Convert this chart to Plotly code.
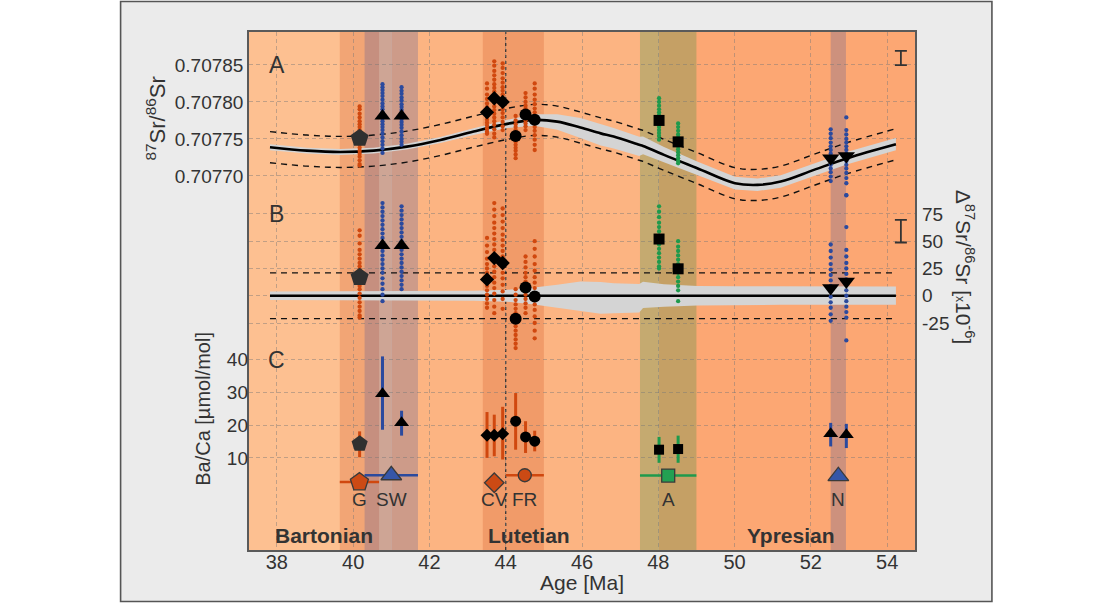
import plotly.graph_objects as go

# ------------------------------------------------------------------ data
x_ticks = [38, 40, 42, 44, 46, 48, 50, 52, 54]
sr_ticks = [0.70770, 0.70775, 0.70780, 0.70785]
sr_ticktext = ["0.70770", "0.70775", "0.70780", "0.70785"]
dsr_ticks = [-25, 0, 25, 50, 75]
dsr_ticktext = ["-25", "0", "25", "50", "75"]
baca_ticks = [10, 20, 30, 40]

stage_names = ["Bartonian", "Lutetian", "Ypresian"]
stage_bounds = [41.0, 48.0]                 # internal stage boundaries [Ma]
stage_label_x = [39.24, 44.6, 51.48]

site_names = ["G", "SW", "CV", "FR", "A", "N"]
site_age_min = [39.65, 40.30, 43.40, 44.00, 47.52, 52.52]
site_age_max = [40.68, 41.70, 44.00, 45.00, 49.00, 52.92]
site_group = ["orange", "blue", "orange", "orange", "green", "blue"]
site_symbol = ["pentagon", "triangle-up", "diamond", "circle", "square", "triangle-up"]
site_marker_y = [2.6, 4.7, 2.4, 4.7, 4.6, 4.4]
site_show_hbar = [True, True, False, True, True, False]

# long-term seawater 87Sr/86Sr curve
curve_age = [37.82, 38.79, 39.66, 40.54, 41.41, 42.29, 43.16, 44.04, 44.74, 45.35,
             45.96, 46.49, 46.83, 47.50, 47.60, 48.15, 49.02, 50.01, 50.60, 51.21,
             52.08, 52.96, 54.23]
curve_sr = [0.7077388, 0.7077342, 0.7077324, 0.7077342, 0.7077396, 0.7077486,
            0.7077599, 0.7077703, 0.7077757, 0.7077734, 0.7077653, 0.7077575,
            0.7077531, 0.7077421, 0.7077405, 0.7077284, 0.7077104, 0.7076901,
            0.7076878, 0.7076923, 0.7077081, 0.7077240, 0.7077428]
# curve uncertainty envelope (x1e-6, relative to curve)
band_upper = [4, 4, 4, 4, 4, 4, 4.5, 5.5, 7.5, 10, 13, 12.5, 11.5, 10.7, 12.8,
              10.5, 9, 8.7, 8.6, 8.6, 8.5, 8.5, 8.5]
band_lower = [-4, -4, -4, -4, -4, -4, -4.5, -5.5, -8, -11, -14, -16.5, -16, -15.3,
              -11.3, -10, -9, -8.5, -8.3, -8.3, -8.2, -8.2, -8.2]
dashed_offset = 21  # x1e-6

# samples
sample_site = ["G", "SW", "SW", "CV", "CV", "CV", "FR", "FR", "FR", "A", "A", "N", "N"]
sample_age = [40.17, 40.77, 41.27, 43.51, 43.70, 43.92, 44.26, 44.52, 44.76,
              48.02, 48.52, 52.52, 52.93]
sample_symbol_sr = ["pentagon", "triangle-up", "triangle-up", "diamond", "diamond",
                    "diamond", "circle", "circle", "circle", "square", "square",
                    "triangle-down", "triangle-down"]
sample_symbol_baca = ["pentagon", "triangle-up", "triangle-up", "diamond", "diamond",
                      "diamond", "circle", "circle", "circle", "square", "square",
                      "triangle-up", "triangle-up"]
sr_mean = [0.707751, 0.707781, 0.707781, 0.707786, 0.707805, 0.707800, 0.707754,
           0.707783, 0.707776, 0.707775, 0.707746, 0.707724, 0.707727]
dsr_mean = [17, 46, 46, 15, 34.5, 30, -21, 7.6, -0.6, 52, 24.7, 7, 13]
baca_mean = [14.3, 29.6, 20.7, 16.9, 16.9, 17.4, 21.2, 16.4, 15.1, 12.5, 12.7, 17.4, 17.1]
baca_lo = [10.2, 18.6, 16.8, 10.0, 10.5, 9.5, 12.5, 11.5, 12.0, 8.5, 8.5, 13.5, 13.0]
baca_hi = [18.1, 41.0, 24.4, 24.0, 23.2, 25.6, 29.8, 21.2, 18.3, 16.4, 16.8, 20.7, 20.4]

sr_dots_G = [0.707794, 0.707790, 0.707784, 0.707779, 0.707774, 0.707770, 0.707766, 0.707762,
             0.707758, 0.707755, 0.707752, 0.707749, 0.707746, 0.707742, 0.707738, 0.707734,
             0.707730, 0.707726, 0.707721, 0.707716, 0.707714]
sr_dots_SW1 = [0.707824, 0.707820, 0.707816, 0.707812, 0.707808, 0.707803, 0.707798, 0.707794,
               0.707790, 0.707786, 0.707782, 0.707778, 0.707774, 0.707770, 0.707766, 0.707762,
               0.707757, 0.707752, 0.707747, 0.707742, 0.707737, 0.707731]
sr_dots_SW2 = [0.707820, 0.707815, 0.707811, 0.707806, 0.707802, 0.707797, 0.707793, 0.707789,
               0.707785, 0.707781, 0.707777, 0.707773, 0.707769, 0.707765, 0.707760, 0.707755,
               0.707750, 0.707746, 0.707742]
sr_dots_CV1 = [0.707825, 0.707818, 0.707810, 0.707804, 0.707798, 0.707793, 0.707788, 0.707784,
               0.707780, 0.707776, 0.707772, 0.707768, 0.707764, 0.707760, 0.707757]
sr_dots_CV2 = [0.707855, 0.707849, 0.707842, 0.707836, 0.707830, 0.707824, 0.707819, 0.707814,
               0.707809, 0.707804, 0.707799, 0.707794, 0.707789, 0.707784, 0.707779, 0.707774,
               0.707769, 0.707763, 0.707757, 0.707752]
sr_dots_CV3 = [0.707852, 0.707846, 0.707839, 0.707832, 0.707826, 0.707820, 0.707815, 0.707810,
               0.707805, 0.707800, 0.707795, 0.707790, 0.707785, 0.707779, 0.707773, 0.707767,
               0.707762]
sr_dots_FR1 = [0.707781, 0.707775, 0.707770, 0.707766, 0.707762, 0.707758, 0.707754, 0.707750,
               0.707746, 0.707742, 0.707738, 0.707734, 0.707729, 0.707724]
sr_dots_FR2 = [0.707812, 0.707806, 0.707800, 0.707795, 0.707791, 0.707787, 0.707783, 0.707779,
               0.707775, 0.707771, 0.707767, 0.707762]
sr_dots_FR3 = [0.707825, 0.707818, 0.707810, 0.707803, 0.707797, 0.707791, 0.707786, 0.707781,
               0.707776, 0.707771, 0.707766, 0.707761, 0.707755, 0.707749, 0.707742, 0.707735]
sr_dots_A1 = [0.707805, 0.707800, 0.707795, 0.707790, 0.707786, 0.707782, 0.707778, 0.707774,
              0.707770, 0.707766, 0.707762, 0.707758, 0.707754, 0.707749]
sr_dots_A2 = [0.707771, 0.707766, 0.707761, 0.707756, 0.707752, 0.707748, 0.707744, 0.707740,
              0.707736, 0.707732, 0.707728, 0.707724, 0.707720, 0.707717]
sr_dots_N1 = [0.707763, 0.707757, 0.707751, 0.707745, 0.707740, 0.707735, 0.707730, 0.707725,
              0.707720, 0.707715, 0.707710, 0.707705, 0.707699, 0.707693]
sr_dots_N2 = [0.707779, 0.707762, 0.707756, 0.707750, 0.707745, 0.707740, 0.707735, 0.707730,
              0.707725, 0.707720, 0.707715, 0.707710, 0.707704, 0.707697, 0.707690, 0.707674]

dsr_dots_G = [60, 55, 48, 42, 38, 34, 30, 27, 24, 21, 18, 15, 12, 9, 6, 2, -2, -6, -10, -14, -18, -20]
dsr_dots_SW1 = [85, 81, 77, 73, 69, 65, 61, 57, 53, 49, 45, 41, 37, 33, 29, 25, 21, 16, 11, 6, 1, -5]
dsr_dots_SW2 = [82, 78, 74, 70, 66, 62, 58, 54, 50, 46, 42, 38, 34, 30, 26, 22, 18, 14, 10, 6]
dsr_dots_CV1 = [53, 46, 40, 34, 29, 25, 21, 17, 13, 9, 5, 1, -3, -7, -11]
dsr_dots_CV2 = [85, 79, 73, 67, 62, 57, 52, 47, 42, 37, 32, 27, 22, 17, 12, 7, 2, -4, -10, -16]
dsr_dots_CV3 = [80, 74, 68, 62, 56, 51, 46, 41, 36, 31, 26, 21, 16, 10, 4, -3, -12]
dsr_dots_FR1 = [6, 1, -4, -8, -12, -16, -20, -24, -28, -32, -36, -40, -44, -48]
dsr_dots_FR2 = [36, 31, 26, 21, 17, 13, 9, 5, 1, -3, -7, -11, -16]
dsr_dots_FR3 = [50, 43, 36, 29, 23, 17, 12, 7, 2, -3, -8, -13, -19, -25, -32, -39]
dsr_dots_A1 = [82, 77, 72, 67, 63, 59, 55, 51, 47, 43, 39, 35, 31, 27, 25]
dsr_dots_A2 = [50, 45, 41, 37, 33, 29, 25, 21, 17, 13, 9, 5, -5]
dsr_dots_N1 = [47, 41, 35, 29, 24, 19, 14, 9, 4, -1, -6, -11, -17, -23]
dsr_dots_N2 = [92, 63, 42, 36, 30, 25, 20, 15, 10, 5, 0, -5, -10, -15, -20, -41]

sr_dots = [sr_dots_G, sr_dots_SW1, sr_dots_SW2, sr_dots_CV1, sr_dots_CV2, sr_dots_CV3,
           sr_dots_FR1, sr_dots_FR2, sr_dots_FR3, sr_dots_A1, sr_dots_A2, sr_dots_N1, sr_dots_N2]
dsr_dots = [dsr_dots_G, dsr_dots_SW1, dsr_dots_SW2, dsr_dots_CV1, dsr_dots_CV2, dsr_dots_CV3,
            dsr_dots_FR1, dsr_dots_FR2, dsr_dots_FR3, dsr_dots_A1, dsr_dots_A2, dsr_dots_N1,
            dsr_dots_N2]

# external reproducibility bars (2SD)
repro_age = 54.36
repro_sr = 0.7078595
repro_sr_err = 0.0000097
repro_dsr = 59.2
repro_dsr_err = 10.4

# ------------------------------------------------------------------ style
FONT = "Liberation Sans"
TXT = "#333333"
stage_colors = ["#FDC091", "#FCB482", "#FCA773"]
group_solid = {"orange": "#D0480F", "blue": "#2B4A9E", "green": "#1E9A4C"}
group_band = {"orange": "rgba(204,68,17,0.22)", "blue": "rgba(40,70,165,0.22)",
              "green": "rgba(30,140,60,0.25)"}
group_fill = {"orange": "#CC4A14", "blue": "#3556A8", "green": "#23A052"}
site_group_of = dict(zip(site_names, site_group))

X_MIN, X_MAX = 37.27, 54.73

fig = go.Figure()

# ---- panel A: curve envelope, dashed +-, curve
sr_up = [c + u * 1e-6 for c, u in zip(curve_sr, band_upper)]
sr_lo = [c + l * 1e-6 for c, l in zip(curve_sr, band_lower)]
fig.add_trace(go.Scatter(x=curve_age, y=sr_up, mode="lines", line=dict(width=0),
                         yaxis="y", hoverinfo="skip"))
fig.add_trace(go.Scatter(x=curve_age, y=sr_lo, mode="lines", line=dict(width=0),
                         fill="tonexty", fillcolor="#D4D4D4", yaxis="y", hoverinfo="skip"))
for sgn in (1, -1):
    fig.add_trace(go.Scatter(x=curve_age, y=[c + sgn * dashed_offset * 1e-6 for c in curve_sr],
                             mode="lines", line=dict(color="#111", width=1.4, dash="6px,5px",
                                                     shape="spline"),
                             yaxis="y", hoverinfo="skip"))
fig.add_trace(go.Scatter(x=curve_age, y=curve_sr, mode="lines",
                         line=dict(color="#000", width=2.6, shape="spline"), yaxis="y"))

# ---- panel B: envelope, dashed, zero line
fig.add_trace(go.Scatter(x=curve_age, y=band_upper, mode="lines", line=dict(width=0),
                         yaxis="y2", hoverinfo="skip"))
fig.add_trace(go.Scatter(x=curve_age, y=band_lower, mode="lines", line=dict(width=0),
                         fill="tonexty", fillcolor="#D4D4D4", yaxis="y2", hoverinfo="skip"))
for sgn in (1, -1):
    fig.add_trace(go.Scatter(x=[curve_age[0], curve_age[-1]], y=[sgn * dashed_offset] * 2,
                             mode="lines", line=dict(color="#111", width=1.4, dash="6px,5px"),
                             yaxis="y2", hoverinfo="skip"))
fig.add_trace(go.Scatter(x=[curve_age[0], curve_age[-1]], y=[0, 0], mode="lines",
                         line=dict(color="#000", width=2.6), yaxis="y2"))

# ---- individual measurements (dots)
for i, age in enumerate(sample_age):
    col = group_solid[site_group_of[sample_site[i]]]
    fig.add_trace(go.Scatter(x=[age] * len(sr_dots[i]), y=sr_dots[i], mode="markers",
                             marker=dict(size=4.3, color=col), yaxis="y"))
    fig.add_trace(go.Scatter(x=[age] * len(dsr_dots[i]), y=dsr_dots[i], mode="markers",
                             marker=dict(size=4.3, color=col), yaxis="y2"))

# ---- sample means A / B
size_sr = {"pentagon": 19, "triangle-up": 14, "diamond": 11, "circle": 12,
           "square": 11, "triangle-down": 15}
for i, age in enumerate(sample_age):
    sym = sample_symbol_sr[i]
    mcol = "#303030" if sym == "pentagon" else "#000000"
    for yv, ax in ((sr_mean[i], "y"), (dsr_mean[i], "y2")):
        fig.add_trace(go.Scatter(x=[age], y=[yv], mode="markers", yaxis=ax,
                                 marker=dict(symbol=sym, size=size_sr[sym], color=mcol)))

# ---- panel C: Ba/Ca with error bars
size_c = {"pentagon": 17, "triangle-up": 13, "diamond": 10, "circle": 11, "square": 10}
for i, age in enumerate(sample_age):
    sym = sample_symbol_baca[i]
    col = group_solid[site_group_of[sample_site[i]]]
    mcol = "#303030" if sym == "pentagon" else "#000000"
    fig.add_trace(go.Scatter(
        x=[age], y=[baca_mean[i]], mode="markers", yaxis="y3",
        marker=dict(symbol=sym, size=size_c[sym], color=mcol),
        error_y=dict(type="data", symmetric=False, array=[baca_hi[i] - baca_mean[i]],
                     arrayminus=[baca_mean[i] - baca_lo[i]], color=col, thickness=3, width=0)))

# ---- site markers with age ranges
size_site = {"pentagon": 19, "triangle-up": 18, "diamond": 15, "circle": 13, "square": 13}
for j, name in enumerate(site_names):
    mid = (site_age_min[j] + site_age_max[j]) / 2
    half = (site_age_max[j] - site_age_min[j]) / 2
    g = site_group[j]
    err = dict(type="data", array=[half], color=group_solid[g], thickness=2.5, width=0,
               visible=site_show_hbar[j])
    fig.add_trace(go.Scatter(
        x=[mid], y=[site_marker_y[j]], mode="markers", yaxis="y3", error_x=err,
        marker=dict(symbol=site_symbol[j], size=size_site[site_symbol[j]], color=group_fill[g],
                    line=dict(color="#3a3a3a", width=1.3))))

# ---- reproducibility bars
fig.add_trace(go.Scatter(x=[repro_age], y=[repro_sr], mode="markers", yaxis="y",
                         marker=dict(size=1, color="rgba(0,0,0,0)"),
                         error_y=dict(type="data", array=[repro_sr_err], color="#333",
                                      thickness=1.8, width=6)))
fig.add_trace(go.Scatter(x=[repro_age], y=[repro_dsr], mode="markers", yaxis="y2",
                         marker=dict(size=1, color="rgba(0,0,0,0)"),
                         error_y=dict(type="data", array=[repro_dsr_err], color="#333",
                                      thickness=1.8, width=6)))

# ------------------------------------------------------------------ shapes
shapes = []
# outer grey frame
shapes.append(dict(type="rect", xref="paper", yref="paper", x0=-0.1928, x1=1.1155,
                   y0=-0.0993, y1=1.0588, fillcolor="#EBEBEB",
                   line=dict(color="#555555", width=1.6), layer="below"))
# stage backgrounds
edges = [X_MIN] + stage_bounds + [X_MAX]
for k in range(len(stage_names)):
    shapes.append(dict(type="rect", xref="x", yref="paper", x0=edges[k], x1=edges[k + 1],
                       y0=0, y1=1, fillcolor=stage_colors[k], line=dict(width=0),
                       layer="below"))
# site age-range bands
for j in range(len(site_names)):
    shapes.append(dict(type="rect", xref="x", yref="paper", x0=site_age_min[j],
                       x1=site_age_max[j], y0=0, y1=1,
                       fillcolor=group_band[site_group[j]], line=dict(width=0),
                       layer="below"))
# dotted reference line at 44 Ma
shapes.append(dict(type="line", xref="x", yref="paper", x0=44.0, x1=44.0, y0=0, y1=1,
                   line=dict(color="#333", width=1.3, dash="dot"), layer="below"))

# ------------------------------------------------------------------ annotations
ann = []
for name, xv in zip(stage_names, stage_label_x):
    ann.append(dict(x=xv, y=-13.6, xref="x", yref="y3", text="<b>%s</b>" % name,
                    showarrow=False, font=dict(family=FONT, size=21, color=TXT),
                    xanchor="center", yanchor="middle"))
for j, name in enumerate(site_names):
    mid = (site_age_min[j] + site_age_max[j]) / 2
    ann.append(dict(x=mid, y=-2.8, xref="x", yref="y3", text=name, showarrow=False,
                    font=dict(family=FONT, size=19, color=TXT), xanchor="center",
                    yanchor="middle"))
for letter, yv, ax in (("A", sr_ticks[-1], "y"), ("B", dsr_ticks[-1], "y2"),
                       ("C", baca_ticks[-1], "y3")):
    ann.append(dict(x=x_ticks[0], y=yv, xref="x", yref=ax, text=letter, showarrow=False,
                    font=dict(family=FONT, size=23, color=TXT), xanchor="center",
                    yanchor="middle"))
ann.append(dict(x=-0.1403, y=0.832, xref="paper", yref="paper", textangle=-90,
                text="<sup>87</sup>Sr/<sup>86</sup>Sr", showarrow=False,
                font=dict(family=FONT, size=22, color=TXT), xanchor="center", yanchor="middle"))
ann.append(dict(x=-0.0702, y=0.273, xref="paper", yref="paper", textangle=-90,
                text="Ba/Ca [µmol/mol]", showarrow=False,
                font=dict(family=FONT, size=20, color=TXT), xanchor="center", yanchor="middle"))
ann.append(dict(x=1.075, y=0.545, xref="paper", yref="paper", textangle=90,
                text="Δ<sup>87</sup>Sr/<sup>86</sup>Sr [<span style='font-size:12px'>x</span>10<sup>-6</sup>]",
                showarrow=False, font=dict(family=FONT, size=21, color=TXT),
                xanchor="center", yanchor="middle"))
ann.append(dict(x=0.5, y=-0.0625, xref="paper", yref="paper", text="Age [Ma]",
                showarrow=False, font=dict(family=FONT, size=21, color=TXT),
                xanchor="center", yanchor="middle"))

# ------------------------------------------------------------------ layout
grid = dict(showgrid=True, gridcolor="rgba(120,120,120,0.45)", gridwidth=1,
            griddash="4px,3px", zeroline=False, ticks="")
fig.update_layout(
    width=1112, height=604,
    margin=dict(l=248.5, r=197, t=32, b=53.5, pad=0),
    paper_bgcolor="white", plot_bgcolor=stage_colors[0],
    showlegend=False,
    font=dict(family=FONT, color=TXT),
    shapes=shapes, annotations=ann,
    xaxis=dict(range=[X_MIN, X_MAX], tickvals=x_ticks, showline=True, mirror=True,
               linecolor="#5a5a5a", linewidth=1.5, tickfont=dict(size=20, color=TXT),
               ticklabelstandoff=-7, **grid),
    yaxis=dict(range=[0.707194, 0.7078946], tickvals=sr_ticks, ticktext=sr_ticktext,
               showline=True, mirror=True, linecolor="#5a5a5a", linewidth=1.5,
               tickfont=dict(size=19, color=TXT), **grid),
    yaxis2=dict(range=[-233.1, 241.8], tickvals=dsr_ticks, ticktext=dsr_ticktext,
                overlaying="y", side="right",
                tickfont=dict(size=19, color=TXT), ticklabelstandoff=6, **grid),
    yaxis3=dict(range=[-18.14, 140.1], tickvals=baca_ticks, overlaying="y", side="left",
                tickfont=dict(size=19, color=TXT), **grid),
)

fig.write_html("out.html")
